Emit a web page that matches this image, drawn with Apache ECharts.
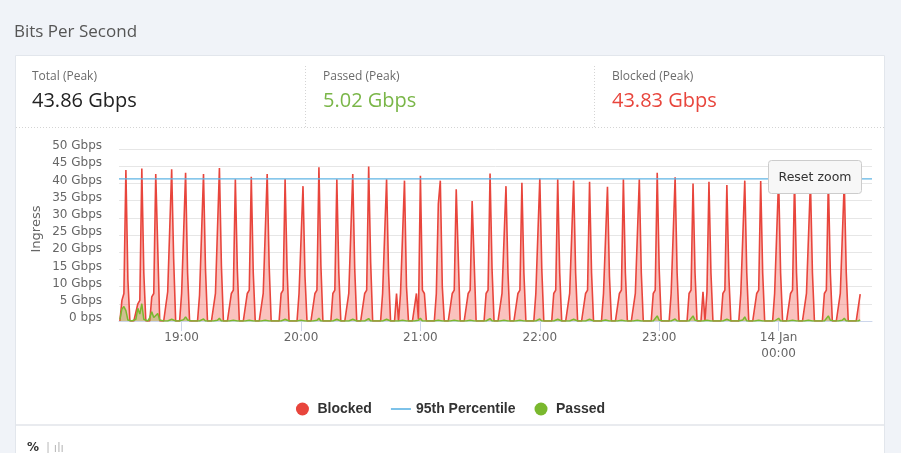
<!DOCTYPE html>
<html>
<head>
<meta charset="utf-8">
<script src="https://cdn.jsdelivr.net/npm/echarts@6/dist/echarts.min.js"></script>
<style>
html,body{margin:0;padding:0;background:#f0f3f8;}
#c{width:901px;height:453px;}
</style>
</head>
<body>
<div id="c"></div>
<script>
// ---- data ----
const startTime = '2025-01-13T18:29:00Z';   // first sample
const stepMinutes = 1;                       // sample spacing
const axisStart = '2025-01-13T18:28:32Z';
const axisEnd = '2025-01-14T00:46:56Z';

// Blocked traffic, Gbps, one value per minute
const blocked = [
  0,6,8,43.9,12,0,0,0,0,5,
  6,44.3,14,0,0,0,7,8,42.7,42.5,
  0,0,0,0,8.5,9,44.1,18,0,0,
  0,8,8.5,43.1,14,0,0,0,0,0,
  7.5,8,42.7,15,0,0,0,0,8,8.5,
  44.5,16,0,0,0,0,8,9,41.2,15,
  0,0,0,0,8,9,41.9,14,0,0,
  0,0,8,8.5,42.7,16,0,0,0,0,
  0,8,9,41.3,15,0,0,0,0,0,
  8,8.5,39.2,13,0,0,0,0,8,9,
  44.7,16,0,0,0,0,0,8,9,41.2,
  14,0,0,0,0,8,8.5,42.7,15,0,
  0,0,0,8,9,44.9,17,0,0,0,
  0,0,8,8.5,41.2,14,0,0,0,8,
  0,8,8.5,40.8,10,0,0,0,0,8,
  0.5,42.2,9,8,0,0,0,0,0,8,
  34,40.8,10,0,0,0,0,8,9,38.3,
  37.8,0,0,0,0,8,9,34.9,34.5,0,
  0,0,0,0,8,9,42.9,15,0,0,
  0,0,8,8.5,39.2,14,0,0,0,0,
  8,9,40.2,14,0,0,0,0,0,8,
  8.5,41.4,15,0,0,0,0,0,8,9,
  41.2,14,0,0,0,0,8,8.5,40.8,14,
  0,0,0,0,8,9,40.5,14,0,0,
  0,0,0,8,8.5,39.0,13,0,0,0,
  0,8,9,41.2,14,0,0,0,0,8,
  8.5,41.2,14,0,0,0,0,0,8,9,
  43.1,15,0,0,0,0,0,8,8.5,41.8,
  14,0,0,0,0,0,8,9,40.0,14,
  0,0,0,8.5,0,8.5,40.5,14,0,0,
  0,0,0,8,9,39.5,13,0,0,0,
  0,0,8,8.5,40.8,14,0,0,0,0,
  8,9,40.7,14,0,0,0,0,0,8,
  8.5,41.5,14,0,0,0,0,8,9,41.0,
  14,0,0,0,0,8,8.5,40.5,14,0,
  0,0,0,0,8,9,41.0,14,0,0,
  0,0,8,8.5,40.5,14,0,0,0,0,
  0,0,7.8
];

// Passed traffic, Gbps, one value per minute
const passed = [
  0.5,3.5,4.2,3.0,0.3,0,0,0,0.5,3.7,
  2,5.02,0.5,0,0,1,2.7,1,1.2,2.2,
  0.3,0,0,0,0,0.3,0.5,0,0,0,
  0,0,0.4,1.2,0.3,0,0,0,0,0,
  0,0.2,0.6,0,0,0,0,0,0,0.2,
  0.8,0,0,0,0,0,0,0.2,0.5,0,
  0,0,0,0,0,0.2,0.5,0,0,0,
  0,0,0,0.2,0.6,0,0,0,0,0,
  0,0,0.2,0.5,0,0,0,0,0,0,
  0,0.2,0.4,0,0,0,0,0,0,0.2,
  0.8,0,0,0,0,0,0,0,0.2,0.5,
  0,0,0,0,0,0,0.2,0.5,0,0,
  0,0,0,0,0.2,0.7,0,0,0,0,
  0,0,0,0.2,0.5,0,0,0,0,0,
  0,0,0.2,0.6,0,0,0,0,0,0,
  0.2,0.8,0,0,0,0,0,0,0,0,
  0.2,0.5,0,0,0,0,0,0,0.2,0.6,
  0,0,0,0,0,0,0.2,0.5,0,0,
  0,0,0,0,0,0.2,0.7,0,0,0,
  0,0,0,0.2,0.5,0,0,0,0,0,
  0,0.2,0.5,0,0,0,0,0,0,0,
  0.2,0.6,0,0,0,0,0,0,0,0.2,
  0.5,0,0,0,0,0,0,0.2,0.5,0,
  0,0,0,0,0,0.2,0.5,0,0,0,
  0,0,0,0,0.3,0.8,0,0,0,0,
  0,0,0.2,0.5,0,0,0,0,0,0,
  0.2,0.6,0,0,0,0,0,0,0,0.4,
  1.5,0.2,0,0,0,0,0,0,0.2,0.6,
  0,0,0,0,0,0,0,0.4,1.5,0.2,
  0,0,0,0,0,0.2,0.6,0,0,0,
  0,0,0,0,0.2,0.5,0,0,0,0,
  0,0,0,0.3,1.2,0,0,0,0,0,
  0,0.2,0.6,0,0,0,0,0,0,0,
  0.2,0.8,0,0,0,0,0,0,0.2,0.5,
  0,0,0,0,0,0,0.2,0.6,0,0,
  0,0,0,0,0,0.4,1.5,0.2,0,0,
  0,0,0,0.2,0.8,0,0,0,0,0,
  0,0,0.3
];

const percentile95 = [41.3];

const xTickTimes = ['2025-01-13T19:00:00Z','2025-01-13T20:00:00Z','2025-01-13T21:00:00Z',
                    '2025-01-13T22:00:00Z','2025-01-13T23:00:00Z','2025-01-14T00:00:00Z'];
const xTickLabels = ['19:00','20:00','21:00','22:00','23:00','14 Jan\n00:00'];
const yTickLabels = ['0 bps','5 Gbps','10 Gbps','15 Gbps','20 Gbps','25 Gbps',
                     '30 Gbps','35 Gbps','40 Gbps','45 Gbps','50 Gbps'];

const statLabels = ['Total (Peak)','Passed (Peak)','Blocked (Peak)'];
const statValues = ['43.86 Gbps','5.02 Gbps','43.83 Gbps'];
const seriesNames = ['Blocked','95th Percentile','Passed'];

// ---- chart ----
const t0 = Date.parse(startTime);
const toPairs = arr => arr.map((v, i) => [t0 + i * stepMinutes * 60000, v]);
const tickMs = xTickTimes.map(s => Date.parse(s));
const xMin = Date.parse(axisStart), xMax = Date.parse(axisEnd);

const RED = '#e8453c', BLUE = '#5fb4e4', GREEN = '#7ab82e';
const statColors = ['#222222', '#7ab648', '#e8453c'];
const statX = [32, 323, 612];

const chart = echarts.init(document.getElementById('c'), null, {renderer: 'canvas'});

const graphics = [
  {type: 'rect', z: -10, shape: {x: 15.5, y: 55.5, width: 869, height: 430},
   style: {fill: '#ffffff', stroke: '#e2e6ec', lineWidth: 1}},
  {type: 'line', z: -9, shape: {x1: 16, y1: 127.5, x2: 884, y2: 127.5},
   style: {stroke: '#d4d4d4', lineWidth: 1, lineDash: [1, 2]}},
  {type: 'line', z: -9, shape: {x1: 305.5, y1: 66, x2: 305.5, y2: 127},
   style: {stroke: '#d4d4d4', lineWidth: 1, lineDash: [1, 2]}},
  {type: 'line', z: -9, shape: {x1: 594.5, y1: 66, x2: 594.5, y2: 127},
   style: {stroke: '#d4d4d4', lineWidth: 1, lineDash: [1, 2]}},
  {type: 'line', z: -9, shape: {x1: 16, y1: 425, x2: 884, y2: 425},
   style: {stroke: '#e9ebef', lineWidth: 2}},
  {type: 'text', x: 14, y: 32, style: {text: 'Bits Per Second', fill: '#555555',
   fontSize: 17, fontFamily: 'Open Sans', verticalAlign: 'middle'}},
  {type: 'text', x: 37, y: 229, rotation: Math.PI / 2, style: {text: 'Ingress', fill: '#666666',
   fontSize: 13, fontFamily: 'DejaVu Sans', align: 'center', verticalAlign: 'middle'}},
  {type: 'text', x: 27, y: 448, style: {text: '%', fill: '#333333', fontSize: 12, fontWeight: 'bold',
   fontFamily: 'DejaVu Sans', verticalAlign: 'middle'}},
  {type: 'text', x: 46, y: 449, style: {text: '| ılı', fill: '#bbbbbb', fontSize: 12,
   fontFamily: 'DejaVu Sans', verticalAlign: 'middle'}},
  {type: 'group', z: 100, children: [
    {type: 'rect', z: 100, shape: {x: 768.5, y: 160.5, width: 93, height: 33, r: 3},
     style: {fill: '#f7f7f7', stroke: '#cccccc', lineWidth: 1}},
    {type: 'text', z: 101, x: 815, y: 177.5, style: {text: 'Reset zoom', fill: '#333333',
     fontSize: 12.5, fontFamily: 'DejaVu Sans', align: 'center', verticalAlign: 'middle'}}
  ]}
];
statLabels.forEach((lab, i) => {
  graphics.push({type: 'text', x: statX[i], y: 76.5, style: {text: lab, fill: '#6b6b6b',
    fontSize: 12, fontFamily: 'Open Sans', verticalAlign: 'middle'}});
  graphics.push({type: 'text', x: statX[i], y: 101.5, style: {text: statValues[i], fill: statColors[i],
    fontSize: 20, fontFamily: 'Open Sans', verticalAlign: 'middle'}});
});

chart.setOption({
  animation: false,
  backgroundColor: '#f0f3f8',
  textStyle: {fontFamily: 'DejaVu Sans'},
  graphic: {elements: graphics},
  grid: {left: 119, right: 29, top: 149, bottom: 132, containLabel: false},
  legend: {
    top: 397, left: 'center', itemWidth: 20, itemHeight: 13, itemGap: 19,
    textStyle: {fontFamily: 'Liberation Sans', fontWeight: 'bold', fontSize: 14, color: '#333333'},
    data: [
      {name: seriesNames[0], icon: 'circle'},
      {name: seriesNames[1], icon: 'path://M0,0H16V1.3H0Z'},
      {name: seriesNames[2], icon: 'circle'}
    ]
  },
  xAxis: {
    type: 'value', min: xMin, max: xMax,
    axisLine: {show: true, lineStyle: {color: '#ccd6eb'}},
    axisTick: {show: true, length: 10, lineStyle: {color: '#ccd6eb'}, customValues: tickMs},
    axisLabel: {
      customValues: tickMs, color: '#666666', fontSize: 12, fontFamily: 'DejaVu Sans',
      margin: 9, lineHeight: 16, hideOverlap: false,
      formatter: v => { const k = tickMs.indexOf(v); return k >= 0 ? xTickLabels[k] : ''; }
    },
    splitLine: {show: false}
  },
  yAxis: {
    type: 'value', min: 0, max: 50, interval: 5,
    axisLine: {show: false}, axisTick: {show: false},
    splitLine: {lineStyle: {color: '#e6e6e6'}},
    axisLabel: {
      color: '#666666', fontSize: 12, fontFamily: 'DejaVu Sans', margin: 17,
      verticalAlign: 'bottom', lineHeight: 6,
      formatter: v => yTickLabels[Math.round(v / 5)]
    }
  },
  series: [
    {name: seriesNames[0], type: 'line', data: toPairs(blocked), showSymbol: false, symbol: 'circle',
     lineStyle: {color: RED, width: 1.6}, itemStyle: {color: RED},
     areaStyle: {color: 'rgba(240,88,78,0.52)'}, z: 2, silent: true},
    {name: seriesNames[1], type: 'line', symbol: 'none', showSymbol: false,
     data: [[xMin, percentile95[0]], [xMax, percentile95[0]]],
     lineStyle: {color: BLUE, width: 1.2}, itemStyle: {color: BLUE}, z: 4, silent: true},
    {name: seriesNames[2], type: 'line', data: toPairs(passed), showSymbol: false, symbol: 'circle',
     lineStyle: {color: GREEN, width: 1.5}, itemStyle: {color: GREEN},
     areaStyle: {color: 'rgba(130,190,60,0.5)'}, z: 3, silent: true}
  ]
});
</script>
</body>
</html>
